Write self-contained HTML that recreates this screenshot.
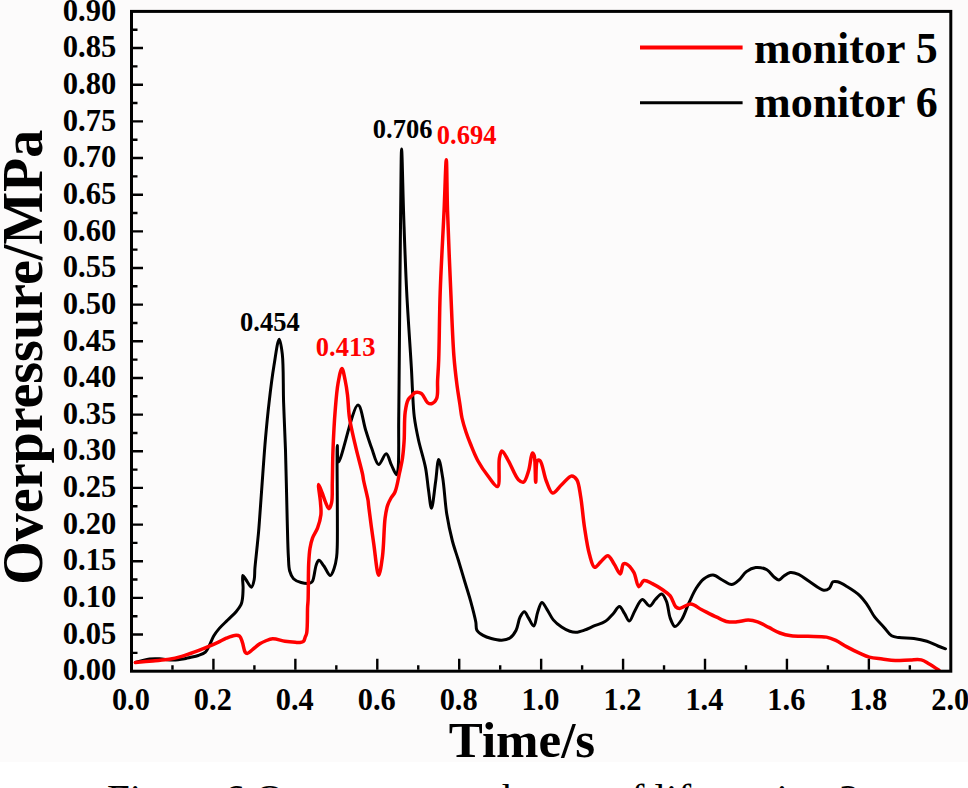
<!DOCTYPE html>
<html><head><meta charset="utf-8"><style>
html,body{margin:0;padding:0;background:#fff;}
body{width:968px;height:788px;overflow:hidden;position:relative;}
svg{position:absolute;left:0;top:0;}
text{font-family:"Liberation Serif",serif;}
</style></head><body>
<svg width="968" height="788" viewBox="0 0 968 788">
<rect x="0" y="0" width="968" height="762" fill="#fcfbfb"/>
<g font-weight="bold" font-size="30.6" fill="#000">
<text transform="translate(116.3 680.40) scale(1 1.055)" text-anchor="end">0.00</text><text transform="translate(116.3 643.74) scale(1 1.055)" text-anchor="end">0.05</text><text transform="translate(116.3 607.09) scale(1 1.055)" text-anchor="end">0.10</text><text transform="translate(116.3 570.43) scale(1 1.055)" text-anchor="end">0.15</text><text transform="translate(116.3 533.78) scale(1 1.055)" text-anchor="end">0.20</text><text transform="translate(116.3 497.12) scale(1 1.055)" text-anchor="end">0.25</text><text transform="translate(116.3 460.47) scale(1 1.055)" text-anchor="end">0.30</text><text transform="translate(116.3 423.81) scale(1 1.055)" text-anchor="end">0.35</text><text transform="translate(116.3 387.16) scale(1 1.055)" text-anchor="end">0.40</text><text transform="translate(116.3 350.50) scale(1 1.055)" text-anchor="end">0.45</text><text transform="translate(116.3 313.84) scale(1 1.055)" text-anchor="end">0.50</text><text transform="translate(116.3 277.19) scale(1 1.055)" text-anchor="end">0.55</text><text transform="translate(116.3 240.53) scale(1 1.055)" text-anchor="end">0.60</text><text transform="translate(116.3 203.88) scale(1 1.055)" text-anchor="end">0.65</text><text transform="translate(116.3 167.22) scale(1 1.055)" text-anchor="end">0.70</text><text transform="translate(116.3 130.57) scale(1 1.055)" text-anchor="end">0.75</text><text transform="translate(116.3 93.91) scale(1 1.055)" text-anchor="end">0.80</text><text transform="translate(116.3 57.26) scale(1 1.055)" text-anchor="end">0.85</text><text transform="translate(116.3 20.60) scale(1 1.055)" text-anchor="end">0.90</text>
</g>
<g font-weight="bold" font-size="30.4" fill="#000">
<text transform="translate(130.90 710.2) scale(1 1.06)" text-anchor="middle">0.0</text><text transform="translate(212.83 710.2) scale(1 1.06)" text-anchor="middle">0.2</text><text transform="translate(294.76 710.2) scale(1 1.06)" text-anchor="middle">0.4</text><text transform="translate(376.69 710.2) scale(1 1.06)" text-anchor="middle">0.6</text><text transform="translate(458.62 710.2) scale(1 1.06)" text-anchor="middle">0.8</text><text transform="translate(540.55 710.2) scale(1 1.06)" text-anchor="middle">1.0</text><text transform="translate(622.48 710.2) scale(1 1.06)" text-anchor="middle">1.2</text><text transform="translate(704.41 710.2) scale(1 1.06)" text-anchor="middle">1.4</text><text transform="translate(786.34 710.2) scale(1 1.06)" text-anchor="middle">1.6</text><text transform="translate(868.27 710.2) scale(1 1.06)" text-anchor="middle">1.8</text><text transform="translate(950.20 710.2) scale(1 1.06)" text-anchor="middle">2.0</text>
</g>
<text font-weight="bold" font-size="56" text-anchor="middle" transform="translate(41.9 357.2) rotate(-90) scale(1 1.03)" fill="#000">Overpressure/MPa</text>
<text x="522" y="756.8" font-weight="bold" font-size="51" text-anchor="middle" fill="#000">Time/s</text>
<text x="107" y="811.5" font-size="41" fill="#000">Figure 6 Overpressure change of lift section 2</text>
<path d="M135.40 662.50C135.40 662.50 145.18 659.57 149.50 659.00C153.06 658.53 155.81 658.67 159.40 658.80C163.69 658.95 168.96 660.20 173.50 660.10C177.77 660.01 182.89 658.94 185.90 658.40C187.64 658.09 188.40 657.87 190.00 657.50C192.29 656.97 195.69 656.43 198.30 655.50C200.81 654.61 203.54 653.80 205.40 652.10C207.28 650.38 208.19 647.70 209.50 645.20C210.97 642.41 212.04 638.93 213.70 636.10C215.32 633.34 217.13 630.94 219.30 628.40C221.72 625.56 224.90 622.79 227.70 620.00C230.50 617.22 233.78 614.45 236.10 611.70C238.08 609.36 239.95 607.00 241.00 604.70C241.86 602.81 242.06 601.31 242.40 599.10C242.88 596.03 243.03 591.74 243.10 587.90C243.18 583.85 241.88 575.71 242.80 575.40C243.39 575.20 244.65 577.92 245.80 579.50C247.38 581.66 249.98 587.40 251.40 587.20C252.72 587.01 253.61 582.35 254.20 579.50C254.89 576.18 254.56 572.53 254.90 568.40C255.33 563.18 256.09 556.70 256.70 550.70C257.33 544.48 258.11 537.27 258.60 531.70C258.99 527.33 259.14 524.90 259.50 520.00C260.12 511.72 261.01 498.75 261.90 486.60C262.97 472.00 264.20 453.30 265.50 438.40C266.63 425.49 267.70 414.33 269.10 402.30C270.50 390.23 272.06 377.25 273.90 366.10C275.49 356.44 277.65 339.21 279.20 339.20C280.35 339.19 281.55 347.67 282.30 354.10C283.63 365.54 283.07 386.23 283.60 402.30C284.13 418.37 284.94 432.97 285.50 450.50C286.17 471.55 286.64 500.44 287.20 520.00C287.61 534.29 287.81 547.72 288.40 557.10C288.76 562.86 288.60 567.13 289.70 571.00C290.56 574.04 291.59 576.78 293.50 578.70C295.40 580.61 298.39 581.76 301.10 582.50C303.88 583.26 308.01 583.70 310.00 583.10C311.18 582.75 311.75 582.36 312.50 581.20C314.23 578.52 314.83 568.37 316.30 564.70C317.11 562.68 317.81 560.40 318.90 560.30C320.23 560.18 322.20 563.80 323.90 566.00C325.99 568.71 328.50 575.59 330.30 575.50C331.80 575.43 333.09 571.20 334.10 568.50C335.32 565.23 336.07 561.02 336.60 557.10C337.16 553.00 337.13 550.64 337.30 544.40C337.78 527.00 336.61 445.42 337.30 445.40C337.58 445.39 337.06 461.81 338.50 462.00C341.24 462.36 353.07 405.02 358.00 405.10C361.25 405.15 363.24 422.51 365.70 430.20C367.81 436.79 369.58 442.65 371.80 448.50C373.90 454.06 375.99 464.22 378.60 464.50C380.87 464.75 384.03 453.60 386.20 453.80C388.32 453.99 389.71 461.59 391.50 465.20C393.15 468.53 395.39 474.81 396.50 474.70C397.28 474.62 397.61 472.21 398.00 469.60C399.20 461.70 398.51 436.46 398.70 420.90C398.87 406.59 398.93 397.99 399.10 379.70C399.44 343.24 400.09 258.56 400.60 216.00C400.93 188.79 401.08 149.10 401.60 149.10C402.12 149.10 402.88 192.99 403.70 216.00C404.57 240.53 405.41 266.51 406.70 292.00C408.00 317.84 410.53 352.37 411.50 370.00C412.00 379.03 412.08 383.24 412.50 390.50C412.98 398.75 413.24 408.42 414.30 416.90C415.30 424.89 416.76 431.99 418.50 440.00C420.42 448.82 423.81 458.83 425.50 467.60C427.01 475.41 427.44 482.93 428.50 490.00C429.45 496.39 430.44 508.20 431.50 508.20C432.78 508.19 434.36 490.23 435.60 481.80C436.74 474.06 437.44 459.55 438.70 459.50C439.85 459.46 441.52 470.62 442.70 477.80C444.36 487.85 445.00 503.12 446.80 514.30C448.35 523.93 450.30 532.90 452.40 541.00C454.20 547.92 456.33 553.53 458.30 560.00C460.36 566.75 462.43 573.81 464.50 580.70C466.56 587.58 468.81 594.40 470.70 601.30C472.58 608.17 474.78 616.65 475.80 622.00C476.43 625.33 475.67 627.96 476.90 630.20C478.12 632.42 480.76 634.03 483.10 635.40C485.54 636.83 488.36 637.71 491.30 638.50C494.52 639.36 498.45 640.34 501.70 640.20C504.61 640.07 507.57 639.62 509.90 638.10C512.44 636.44 514.45 633.36 516.10 630.20C518.05 626.47 518.43 620.09 520.20 616.80C521.41 614.54 523.05 611.63 524.40 611.70C525.83 611.77 527.06 615.68 528.50 617.90C530.14 620.44 532.25 626.31 533.70 626.10C535.50 625.84 536.27 615.93 537.80 611.70C539.06 608.21 540.28 602.57 541.90 602.40C543.41 602.24 545.35 606.95 547.10 609.60C549.14 612.69 550.81 616.94 553.30 619.90C555.68 622.73 558.72 625.15 561.60 627.10C564.24 628.88 567.19 630.45 569.80 631.30C571.95 632.01 573.79 632.40 576.00 632.30C578.58 632.19 581.43 631.18 584.30 630.20C587.59 629.07 591.15 627.14 594.60 625.70C598.05 624.27 601.91 623.59 605.00 621.60C608.12 619.60 610.71 616.33 613.20 613.70C615.47 611.30 617.47 606.42 619.40 606.50C621.26 606.58 622.94 611.27 624.60 613.70C626.24 616.10 627.71 621.06 629.30 621.00C631.14 620.93 632.82 614.16 634.90 610.70C637.12 607.00 639.60 599.87 642.30 599.50C644.62 599.18 647.57 606.17 649.80 606.00C651.87 605.84 653.30 601.51 655.30 599.50C657.30 597.48 659.94 593.62 661.80 593.90C663.69 594.18 665.22 598.27 666.50 601.40C668.28 605.75 668.48 613.58 670.20 618.10C671.49 621.49 673.00 626.24 674.90 626.50C676.75 626.76 679.41 622.91 681.40 620.00C684.22 615.89 686.27 608.60 688.80 603.20C691.21 598.06 693.47 592.56 696.20 588.30C698.51 584.69 700.75 581.24 703.70 579.00C706.42 576.94 709.93 574.87 713.00 575.00C716.13 575.14 719.19 578.39 722.30 580.00C725.39 581.59 728.71 584.74 731.60 584.60C734.25 584.47 736.67 581.97 739.00 580.00C741.64 577.76 743.53 573.70 746.40 571.60C749.13 569.60 752.40 567.85 755.70 567.50C759.20 567.13 763.76 568.11 766.90 569.80C769.91 571.42 772.01 575.42 774.30 577.20C775.96 578.49 777.48 580.11 779.00 580.00C780.58 579.89 781.88 577.48 783.60 576.30C785.56 574.96 787.79 572.86 790.20 572.50C792.76 572.11 795.72 573.17 798.60 574.40C802.20 575.94 805.84 579.30 809.80 581.80C814.16 584.55 820.03 589.80 823.70 590.20C825.92 590.44 827.80 589.54 829.30 588.30C830.99 586.90 831.36 582.75 833.00 581.80C834.28 581.05 835.86 581.38 837.60 581.80C840.22 582.43 843.61 584.52 846.90 586.50C850.98 588.96 856.44 592.43 860.00 595.80C863.06 598.70 865.03 601.72 867.40 605.10C869.99 608.80 871.99 613.46 874.80 617.20C877.57 620.89 881.17 624.16 884.10 627.40C886.74 630.33 888.83 634.14 891.60 635.80C893.88 637.17 896.08 637.16 899.00 637.60C903.08 638.22 909.13 637.85 913.90 638.50C918.41 639.12 922.80 640.00 926.90 641.30C930.81 642.54 934.65 644.67 938.00 646.00C940.73 647.09 945.50 648.80 945.50 648.80" fill="none" stroke="#000" stroke-width="3" stroke-linejoin="round" stroke-linecap="round"/>
<path d="M135.40 662.60C135.40 662.60 147.08 661.46 152.80 660.90C158.37 660.36 164.22 660.14 169.30 659.30C173.75 658.57 177.59 657.57 181.70 656.40C185.86 655.21 189.85 653.76 194.10 652.20C198.67 650.52 203.95 648.36 208.20 646.60C211.75 645.13 214.80 643.84 217.90 642.40C220.82 641.04 223.46 639.38 226.30 638.20C229.06 637.06 232.25 635.62 234.70 635.40C236.53 635.23 238.35 635.16 239.60 636.10C241.07 637.21 241.55 640.04 242.40 642.40C243.42 645.25 243.87 650.40 245.10 652.10C245.72 652.95 246.34 653.52 247.20 653.50C248.63 653.47 250.85 650.90 252.80 649.40C255.02 647.70 257.52 645.26 259.80 643.80C261.70 642.58 263.38 641.81 265.40 641.00C267.62 640.11 269.86 638.94 272.60 638.80C276.16 638.61 281.05 640.61 285.00 641.20C288.58 641.74 292.53 642.09 295.30 642.30C297.17 642.44 298.56 642.72 300.00 642.50C301.30 642.30 302.75 642.02 303.60 641.20C304.47 640.37 304.61 638.80 305.10 637.50C305.64 636.08 306.29 635.16 306.70 633.00C307.66 627.95 307.29 612.92 307.60 607.00C307.76 603.93 307.96 603.25 308.10 600.00C308.43 592.58 308.21 572.96 308.70 563.40C309.01 557.23 309.25 552.72 310.00 548.20C310.62 544.46 311.28 541.41 312.50 538.10C313.78 534.64 316.23 531.59 317.60 527.90C319.09 523.88 320.44 519.12 320.90 514.80C321.34 510.69 320.81 507.07 320.50 502.60C320.13 497.13 317.88 484.58 318.60 484.40C319.10 484.27 321.01 489.91 322.10 492.70C323.18 495.48 323.95 498.40 325.10 501.10C326.22 503.73 327.77 508.73 328.90 508.70C329.90 508.68 330.98 505.29 331.60 502.60C332.67 497.96 332.09 490.23 332.30 482.80C332.57 473.24 332.56 461.44 333.00 450.00C333.48 437.42 334.23 422.38 335.20 410.40C336.01 400.42 336.71 390.66 338.10 383.00C339.13 377.33 340.67 368.41 341.90 368.40C343.00 368.39 344.20 375.86 345.10 380.00C346.11 384.65 346.82 389.45 347.50 395.00C348.34 401.84 348.33 410.14 349.50 418.00C350.75 426.41 353.57 437.55 355.00 443.90C355.84 447.61 356.22 449.12 357.10 452.70C358.49 458.33 361.59 469.51 362.60 474.40C363.11 476.86 363.03 477.57 363.50 480.00C364.39 484.62 367.23 495.43 368.00 500.00C368.39 502.35 368.28 502.79 368.60 505.40C369.45 512.35 371.94 531.39 373.70 543.50C375.31 554.56 377.05 575.17 378.70 575.20C379.98 575.23 381.50 563.66 382.50 556.20C383.90 545.72 383.88 527.37 385.10 518.10C385.81 512.70 386.43 509.01 387.60 505.40C388.52 502.54 389.72 500.29 391.00 498.00C392.20 495.84 393.83 494.70 395.00 492.00C396.93 487.56 398.20 478.97 399.50 473.00C400.65 467.72 401.74 463.16 402.50 458.00C403.30 452.58 403.68 447.58 404.10 441.20C404.66 432.81 404.14 419.64 405.20 412.00C405.90 406.95 406.65 402.49 408.20 399.60C409.23 397.69 410.75 396.74 412.00 395.50C413.11 394.40 413.91 392.91 415.30 392.50C416.93 392.02 419.58 392.33 421.40 393.50C423.82 395.05 425.38 401.08 427.50 402.60C428.80 403.54 430.19 404.05 431.50 403.70C433.23 403.24 435.47 401.12 436.60 398.60C438.39 394.58 437.26 386.56 437.60 380.30C437.96 373.71 438.37 368.76 438.70 360.00C439.31 343.99 439.37 315.72 440.20 292.00C441.11 265.94 443.00 234.00 444.10 210.00C444.96 191.23 445.73 159.79 446.30 159.80C446.87 159.81 446.90 191.23 447.50 210.00C448.27 234.00 449.66 266.36 450.80 292.00C451.80 314.66 452.59 338.96 453.90 356.00C454.78 367.38 455.79 375.70 456.90 384.40C457.85 391.83 459.07 398.92 460.00 405.00C460.74 409.83 461.04 413.62 462.00 418.00C463.01 422.61 464.53 427.54 466.00 432.00C467.38 436.18 468.74 439.68 470.50 444.00C472.62 449.20 475.05 455.63 478.00 461.00C480.90 466.29 484.52 471.56 488.00 476.00C491.09 479.94 495.55 487.22 497.60 486.50C500.50 485.48 498.13 464.35 499.40 458.10C500.06 454.88 500.67 451.15 501.90 451.00C503.42 450.81 506.03 456.79 508.30 460.60C511.41 465.82 515.07 476.47 518.40 479.70C520.11 481.36 522.02 482.73 523.50 482.20C525.69 481.41 527.19 475.11 528.60 470.80C530.30 465.60 531.01 453.28 532.40 453.00C532.98 452.88 533.71 454.17 534.20 455.60C535.62 459.74 535.11 482.19 535.70 482.20C536.23 482.21 535.52 462.43 537.50 460.60C538.17 459.98 539.20 460.01 540.00 460.60C542.35 462.33 543.89 475.18 546.30 481.00C548.23 485.66 550.05 492.65 552.70 493.10C555.20 493.52 558.52 487.59 561.60 484.80C564.84 481.86 568.86 476.02 571.70 475.90C573.65 475.82 575.45 477.63 576.80 479.70C579.00 483.07 579.47 489.83 580.60 496.20C582.12 504.78 582.88 516.78 584.40 526.70C585.86 536.23 587.36 547.19 589.50 554.60C590.99 559.75 592.37 566.77 594.60 567.30C596.32 567.71 598.58 563.75 600.70 561.90C602.99 559.90 605.71 555.46 607.90 555.70C610.19 555.95 612.09 561.07 614.10 564.00C616.23 567.11 618.73 574.10 620.30 573.90C621.78 573.71 621.81 565.17 623.40 564.00C624.27 563.36 625.38 563.49 626.50 564.00C628.60 564.95 631.73 568.86 633.70 572.20C636.04 576.17 636.81 586.34 638.90 586.70C640.41 586.96 641.84 581.08 644.00 580.50C646.26 579.89 649.45 582.22 652.30 583.60C655.62 585.20 659.49 587.65 662.60 589.80C665.39 591.73 668.08 593.21 670.20 595.80C672.60 598.74 673.74 605.00 675.80 606.90C676.97 607.98 677.93 608.39 679.50 608.40C682.22 608.43 687.02 603.91 690.70 604.10C694.45 604.29 697.83 607.70 701.80 609.70C706.40 612.02 712.06 615.08 716.70 617.20C720.64 619.00 724.19 621.08 727.80 621.80C730.97 622.43 733.87 622.06 737.10 621.80C740.67 621.51 744.74 619.94 748.30 620.00C751.55 620.05 754.43 620.72 757.60 621.80C761.24 623.04 765.08 625.53 768.80 627.40C772.51 629.26 776.11 631.59 779.90 633.00C783.55 634.36 786.96 635.23 791.10 635.80C796.10 636.49 802.16 636.09 807.90 636.30C813.94 636.52 821.42 636.11 826.50 637.10C830.20 637.82 832.63 638.93 835.80 640.40C839.41 642.08 843.01 644.80 846.90 646.90C851.05 649.14 855.97 651.60 860.00 653.40C863.33 654.89 865.88 656.18 869.30 657.10C873.22 658.15 877.96 658.43 882.30 659.00C886.63 659.57 890.81 660.33 895.30 660.50C900.09 660.68 905.60 659.99 910.20 659.90C914.17 659.82 918.04 659.12 921.30 659.90C924.14 660.58 926.15 662.19 928.80 663.70C931.98 665.51 939.00 670.20 939.00 670.20" fill="none" stroke="#ff0000" stroke-width="3.5" stroke-linejoin="round" stroke-linecap="round"/>
<path d="M133.0 652.87h4.5M133.0 634.54h10.0M133.0 616.22h4.5M133.0 597.89h10.0M133.0 579.56h4.5M133.0 561.23h10.0M133.0 542.91h4.5M133.0 524.58h10.0M133.0 506.25h4.5M133.0 487.92h10.0M133.0 469.59h4.5M133.0 451.27h10.0M133.0 432.94h4.5M133.0 414.61h10.0M133.0 396.28h4.5M133.0 377.96h10.0M133.0 359.63h4.5M133.0 341.30h10.0M133.0 322.97h4.5M133.0 304.64h10.0M133.0 286.32h4.5M133.0 267.99h10.0M133.0 249.66h4.5M133.0 231.33h10.0M133.0 213.01h4.5M133.0 194.68h10.0M133.0 176.35h4.5M133.0 158.02h10.0M133.0 139.69h4.5M133.0 121.37h10.0M133.0 103.04h4.5M133.0 84.71h10.0M133.0 66.38h4.5M133.0 48.06h10.0M133.0 29.73h4.5M172.47 669.7v-4.5M213.43 669.7v-11.0M254.40 669.7v-4.5M295.36 669.7v-11.0M336.32 669.7v-4.5M377.29 669.7v-11.0M418.25 669.7v-4.5M459.22 669.7v-11.0M500.19 669.7v-4.5M541.15 669.7v-11.0M582.12 669.7v-4.5M623.08 669.7v-11.0M664.04 669.7v-4.5M705.01 669.7v-11.0M745.97 669.7v-4.5M786.94 669.7v-11.0M827.91 669.7v-4.5M868.87 669.7v-11.0M909.84 669.7v-4.5" stroke="#000" stroke-width="2.4" fill="none"/>
<rect x="131.5" y="11.4" width="819.3" height="659.8" fill="none" stroke="#000" stroke-width="3"/>
<line x1="640" y1="47.5" x2="742.6" y2="47.5" stroke="#ff0000" stroke-width="4"/>
<line x1="640" y1="102.8" x2="742.6" y2="102.8" stroke="#000" stroke-width="3"/>
<g font-weight="bold" font-size="44" fill="#000">
<text x="754" y="62.7">monitor 5</text>
<text x="754" y="117.3">monitor 6</text>
</g>
<g font-weight="bold" font-size="26.5">
<text x="240" y="331" fill="#000">0.454</text>
<text x="315.8" y="356.1" fill="#ff0000">0.413</text>
<text x="372.8" y="138.2" fill="#000">0.706</text>
<text x="436.8" y="144.3" fill="#ff0000">0.694</text>
</g>
</svg>
</body></html>
